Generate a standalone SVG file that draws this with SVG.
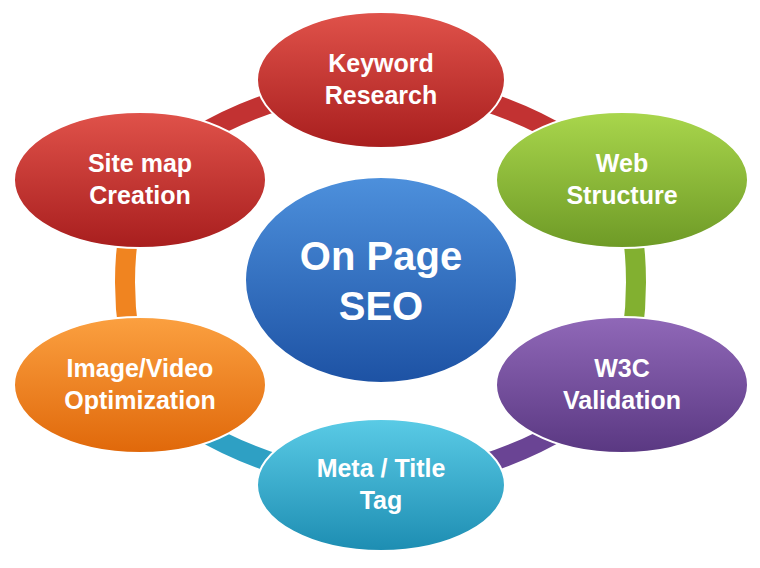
<svg xmlns="http://www.w3.org/2000/svg" width="760" height="568" viewBox="0 0 760 568">
<defs>
<linearGradient id="gr" x1="0" y1="0" x2="0" y2="1"><stop offset="0" stop-color="#e0524a"/><stop offset="1" stop-color="#a81e1e"/></linearGradient>
<linearGradient id="gg" x1="0" y1="0" x2="0" y2="1"><stop offset="0" stop-color="#a9d64c"/><stop offset="1" stop-color="#6e9a26"/></linearGradient>
<linearGradient id="gp" x1="0" y1="0" x2="0" y2="1"><stop offset="0" stop-color="#9068b8"/><stop offset="1" stop-color="#5a3882"/></linearGradient>
<linearGradient id="gt" x1="0" y1="0" x2="0" y2="1"><stop offset="0" stop-color="#5acbe6"/><stop offset="1" stop-color="#1d8db2"/></linearGradient>
<linearGradient id="go" x1="0" y1="0" x2="0" y2="1"><stop offset="0" stop-color="#fba040"/><stop offset="1" stop-color="#e0680a"/></linearGradient>
<linearGradient id="gb" x1="0" y1="0" x2="0" y2="1"><stop offset="0" stop-color="#4d90dc"/><stop offset="1" stop-color="#1d52a4"/></linearGradient>
<style>
text{font-family:"Liberation Sans",Arial,sans-serif;font-weight:bold;fill:#fff;text-anchor:middle;font-size:25px}
.c{fill:none;stroke-width:20}
.n{stroke:#fff;stroke-width:2}
</style>
</defs>
<g id="connectors">
<path class="c" stroke="#c23232" d="M381,80 Q530,95 622,180"/>
<path class="c" stroke="#82b030" d="M622,180 Q650,282 622,385"/>
<path class="c" stroke="#6a4494" d="M622,385 Q530,470 381,485"/>
<path class="c" stroke="#2ea0c4" d="M381,485 Q230,470 140,385"/>
<path class="c" stroke="#f08420" d="M140,385 Q110,282 140,180"/>
<path class="c" stroke="#c23232" d="M140,180 Q230,95 381,80"/>
</g>
<g id="center"><ellipse class="n" cx="381" cy="280" rx="136" ry="103" fill="url(#gb)"/><text x="381" y="270" font-size="40" style="font-size:40px">On Page</text><text x="381" y="320" style="font-size:40px">SEO</text></g>
<g id="keyword"><ellipse class="n" cx="381" cy="80" rx="124" ry="68" fill="url(#gr)"/><text x="381" y="72">Keyword</text><text x="381" y="104">Research</text></g>
<g id="web"><ellipse class="n" cx="622" cy="180" rx="126" ry="68" fill="url(#gg)"/><text x="622" y="172">Web</text><text x="622" y="204">Structure</text></g>
<g id="w3c"><ellipse class="n" cx="622" cy="385" rx="126" ry="68" fill="url(#gp)"/><text x="622" y="377">W3C</text><text x="622" y="409">Validation</text></g>
<g id="meta"><ellipse class="n" cx="381" cy="485" rx="124" ry="66" fill="url(#gt)"/><text x="381" y="477">Meta / Title</text><text x="381" y="509">Tag</text></g>
<g id="image"><ellipse class="n" cx="140" cy="385" rx="126" ry="68" fill="url(#go)"/><text x="140" y="377">Image/Video</text><text x="140" y="409">Optimization</text></g>
<g id="sitemap"><ellipse class="n" cx="140" cy="180" rx="126" ry="68" fill="url(#gr)"/><text x="140" y="172">Site map</text><text x="140" y="204">Creation</text></g>
</svg>
